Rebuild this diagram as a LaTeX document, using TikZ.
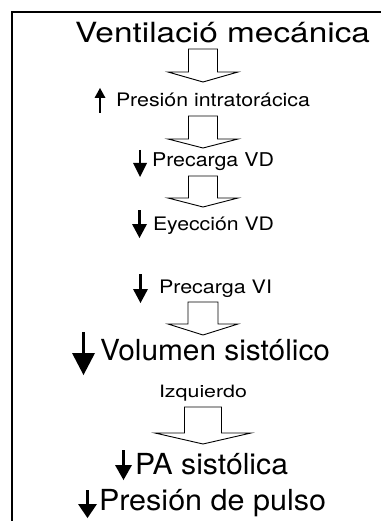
\documentclass[tikz,border=0pt]{standalone}
\usepackage{fontspec}
\usepackage{graphicx}
\setmainfont{TeX Gyre Heros}
\tikzset{
  lbl/.style={anchor=base west, inner sep=0pt, outer sep=0pt},
  blockarr/.style={draw=black, fill=white, line width=0.9pt, line join=miter},
  frameline/.style={draw=black, line width=2.5pt},
}
% block arrow: #1 center x, #2 top, #3 wing y, #4 tip y, #5 shaft half width, #6 head half width
\newcommand\blockarrow[6]{%
  \draw[blockarr] (#1-#5,#2) -- (#1+#5,#2) -- (#1+#5,#3) -- (#1+#6,#3) -- (#1,#4)
     -- (#1-#6,#3) -- (#1-#5,#3) -- cycle;}
% small solid arrow down: #1 x, #2 top, #3 bottom, #4 head half width, #5 head length, #6 shaft width
\newcommand\solidarrdown[6]{%
  \draw[line width=#6pt] (#1,#2) -- (#1,#3-#5+1);
  \fill (#1-#4,#3-#5) -- (#1+#4,#3-#5) -- (#1,#3) -- cycle;}
\newcommand\solidarrup[6]{%
  \draw[line width=#6pt] (#1,#3) -- (#1,#2+#5-1);
  \fill (#1-#4,#2+#5) -- (#1+#4,#2+#5) -- (#1,#2) -- cycle;}
\begin{document}
\begin{tikzpicture}[x=1pt,y=-1pt]
\useasboundingbox (0,0) rectangle (381,521);
% frame (top and left edges)
\draw[frameline] (12,521) -- (12,12) -- (381,12);
% texts
\node[lbl, font=\fontsize{27.8}{30}\selectfont] (t1) at (75,43) {\resizebox{295pt}{\height}{Ventilació mecánica}};
\node[lbl, font=\fontsize{18.6}{20}\selectfont] (t2) at (116,106.5) {\resizebox{194pt}{\height}{Presión intratorácica}};
\node[lbl, font=\fontsize{19}{20}\selectfont] (t3) at (152,167) {\resizebox{122pt}{\height}{Precarga VD}};
\node[lbl, font=\fontsize{18.6}{20}\selectfont] (t4) at (153,230) {\resizebox{121pt}{\height}{Eyección VD}};
\node[lbl, font=\fontsize{18.6}{20}\selectfont] (t5) at (159,293.5) {\resizebox{113pt}{\height}{Precarga VI}};
\node[lbl, font=\fontsize{29}{31}\selectfont] (t6) at (100,360) {\resizebox{230pt}{\height}{Volumen sistólico}};
\node[lbl, font=\fontsize{17}{19}\selectfont] (t7) at (159,397) {\resizebox{88pt}{\height}{Izquierdo}};
\node[lbl, font=\fontsize{29}{31}\selectfont] (t8) at (135,474.5) {\resizebox{153pt}{\height}{PA sistólica}};
\node[lbl, font=\fontsize{29}{31}\selectfont] (t9) at (99,510.5) {\resizebox{227pt}{\height}{Presión de pulso}};
% block arrows
\blockarrow{203}{49}{72}{82}{14.5}{35}
\blockarrow{203}{116}{139}{148}{14.5}{35}
\blockarrow{203}{176}{198}{207}{14.5}{35}
\blockarrow{203}{302}{324}{335}{15}{35}
\blockarrow{203}{407}{433}{444}{18.5}{48}
% solid arrows
\solidarrup{100}{88}{113}{5.5}{10}{2.5}
\solidarrdown{140}{150}{177}{7}{14}{2.2}
\solidarrdown{139.5}{210}{238}{7.5}{14}{2.2}
\solidarrdown{140.5}{274}{303}{7.5}{14}{2.2}
\solidarrdown{83.5}{332}{375}{11.5}{22}{3}
\solidarrdown{123.5}{450}{480}{8.5}{15}{2.4}
\solidarrdown{87.5}{490}{518}{9.5}{14}{2.4}
\end{tikzpicture}
\end{document}
